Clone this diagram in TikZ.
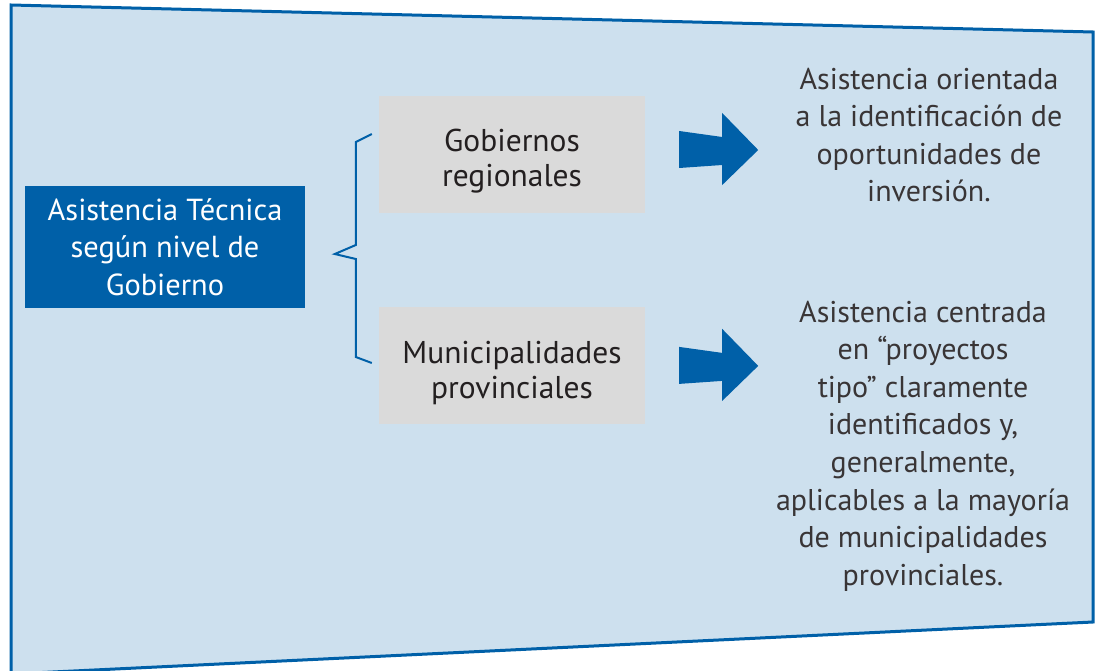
\documentclass[tikz,border=0pt]{standalone}
\usepackage{fontspec}
\setmainfont{PT Sans}
\usetikzlibrary{positioning}
\definecolor{azul}{RGB}{0,96,168}
\definecolor{celeste}{RGB}{205,224,238}
\definecolor{gris}{RGB}{218,218,218}
\definecolor{texto}{RGB}{35,31,32}

\begin{document}
\begin{tikzpicture}[x=1pt,y=-1pt,node distance=94pt,
  marco/.style={draw=azul,line width=3pt,fill=celeste},
  nivel/.style={fill=azul,text=white,minimum width=280pt,minimum height=122pt,
    align=center,font=\fontsize{30.4}{37.5}\selectfont},
  gobierno/.style={fill=gris,text=texto,minimum width=266pt,minimum height=117pt,
    align=center,font=\fontsize{31.5}{35.5}\selectfont},
  nota/.style={text=texto!90,align=center,font=\fontsize{30}{37.6}\selectfont},
  llave/.style={draw=azul,line width=2pt},
  flecha/.style={fill=azul}]

  \useasboundingbox (0,0) rectangle (1099,671);
  % fondo
  \draw[marco] (11,5) -- (1093,32) -- (1093,622) -- (11,674) -- cycle;

  \node[nivel] (asist) at (165,247) {Asistencia Técnica\\según nivel de\\Gobierno};
  \node[gobierno] (reg) at (512,154.5) {\rule{0pt}{36pt}Gobiernos\\regionales};
  \node[gobierno] (mun) [below=of reg] {\rule{0pt}{36pt}Municipalidades\\provinciales};

  \node[nota] (notareg) at (929,135) {Asistencia orientada\\a la identificación de\\oportunidades de\\inversión.};
  \node[nota] (notamun) at (923,446) {Asistencia centrada\\en “proyectos\\tipo” claramente\\identificados y,\\generalmente,\\aplicables a la mayoría\\de municipalidades\\provinciales.};

  % llave
  \draw[llave] (reg.west) ++(-7,-20.5) -- ++(-16,8) -- ++(0,103) -- ++(-21,9)
    -- ++(21,5) -- ++(0,98) -- ++(16,6);

  % flechas
  \coordinate (f1) at ([xshift=34pt,yshift=4.5pt]reg.east);
  \coordinate (f2) at ([xshift=34pt]mun.east);
  \foreach \f in {f1,f2}
    \fill[flecha] (\f) ++(0,-19) -- ++(43,6) -- ++(0,-24) -- ++(36,37)
      -- ++(-36,35) -- ++(0,-20) -- ++(-43,3) -- cycle;
\end{tikzpicture}
\end{document}
